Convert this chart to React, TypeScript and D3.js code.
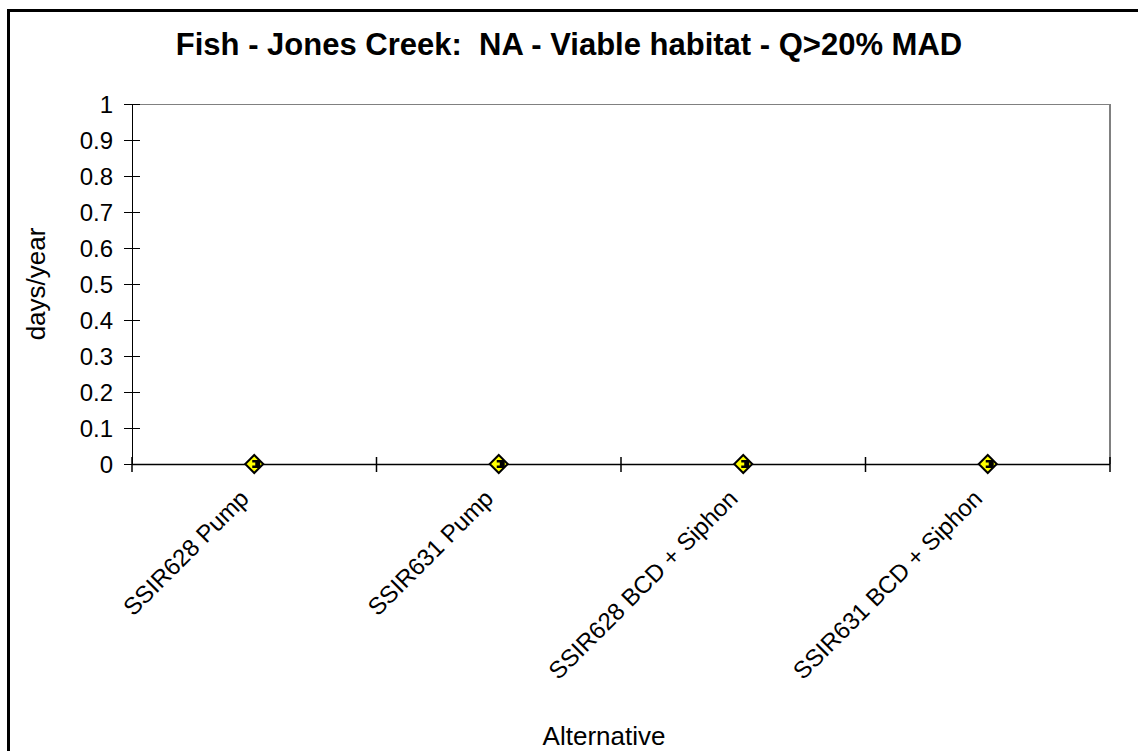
import React from "react";
import * as d3 from "d3";

const categories = ["SSIR628 Pump", "SSIR631 Pump", "SSIR628 BCD + Siphon", "SSIR631 BCD + Siphon"];
const values = [0, 0, 0, 0];
const yTicks = [0, 0.1, 0.2, 0.3, 0.4, 0.5, 0.6, 0.7, 0.8, 0.9, 1];
const title = "Fish - Jones Creek:  NA - Viable habitat - Q>20% MAD";
const xTitle = "Alternative";
const yTitle = "days/year";

const W = 1138, H = 751;
const left = 132, right = 1110, top = 104, bottom = 464;
const font = "'Liberation Sans', Arial, sans-serif";

export default function App() {
  const x = d3.scaleBand<string>().domain(categories).range([left, right]);
  const y = d3.scaleLinear().domain([0, 1]).range([bottom, top]);
  const boundaries = [...categories.map((c) => x(c) as number), right];

  return (
    <svg width={W} height={H} style={{ position: "absolute", left: 0, top: 0 }}>
      <rect x={0} y={0} width={W} height={H} fill="#fff" />
      <rect x={8.5} y={10.5} width={W + 10} height={H + 10} fill="none" stroke="#000" strokeWidth={3} />
      <text x={569} y={55} textAnchor="middle" fontFamily={font} fontWeight="bold" fontSize={31} style={{ whiteSpace: "pre" }}>{title}</text>
      {/* plot border */}
      <line x1={left} x2={right} y1={top + 0.5} y2={top + 0.5} stroke="#808080" strokeWidth={1} />
      <line x1={right} x2={right} y1={top} y2={bottom} stroke="#808080" strokeWidth={2} />
      {/* y axis */}
      <line x1={left + 0.5} x2={left + 0.5} y1={top} y2={bottom} stroke="#000" strokeWidth={1} />
      {yTicks.map((t) => (
        <g key={t}>
          <line x1={left - 8} x2={left + 8} y1={Math.round(y(t)) + 0.5} y2={Math.round(y(t)) + 0.5} stroke="#000" />
          <text x={113} y={y(t) + 9} textAnchor="end" fontFamily={font} fontSize={24}>{d3.format("~g")(t)}</text>
        </g>
      ))}
      {/* x axis */}
      <line x1={left} x2={right} y1={bottom + 0.5} y2={bottom + 0.5} stroke="#000" strokeWidth={1.5} />
      {boundaries.map((b, i) => (
        <line key={i} x1={b} x2={b} y1={bottom - 7} y2={bottom + 8} stroke="#000" strokeWidth={1.5} />
      ))}
      {categories.map((c) => {
        const cx = (x(c) as number) + x.bandwidth() / 2;
        return (
          <text key={c} transform={`translate(${cx - 4},${bottom + 36}) rotate(-45)`} textAnchor="end" fontFamily={font} fontSize={24}>{c}</text>
        );
      })}
      {/* markers */}
      {categories.map((c, i) => {
        const cx = (x(c) as number) + x.bandwidth() / 2;
        const cy = y(values[i]);
        return (
          <g key={c} transform={`translate(${cx},${cy})`}>
            <path d="M0,-9 L9,0 L0,9 L-9,0 Z" fill="#ffff00" stroke="#000" strokeWidth={2} />
            <path d="M-2,-4 L6,-4 L6,4 L-2,4 L-2,1.5 L1,1.5 L1,-1.5 L-2,-1.5 Z" fill="#000" />
          </g>
        );
      })}
      <text transform={`translate(45,${(top + bottom) / 2}) rotate(-90)`} textAnchor="middle" fontFamily={font} fontSize={26}>{yTitle}</text>
      <text x={604} y={745} textAnchor="middle" fontFamily={font} fontSize={26}>{xTitle}</text>
    </svg>
  );
}
